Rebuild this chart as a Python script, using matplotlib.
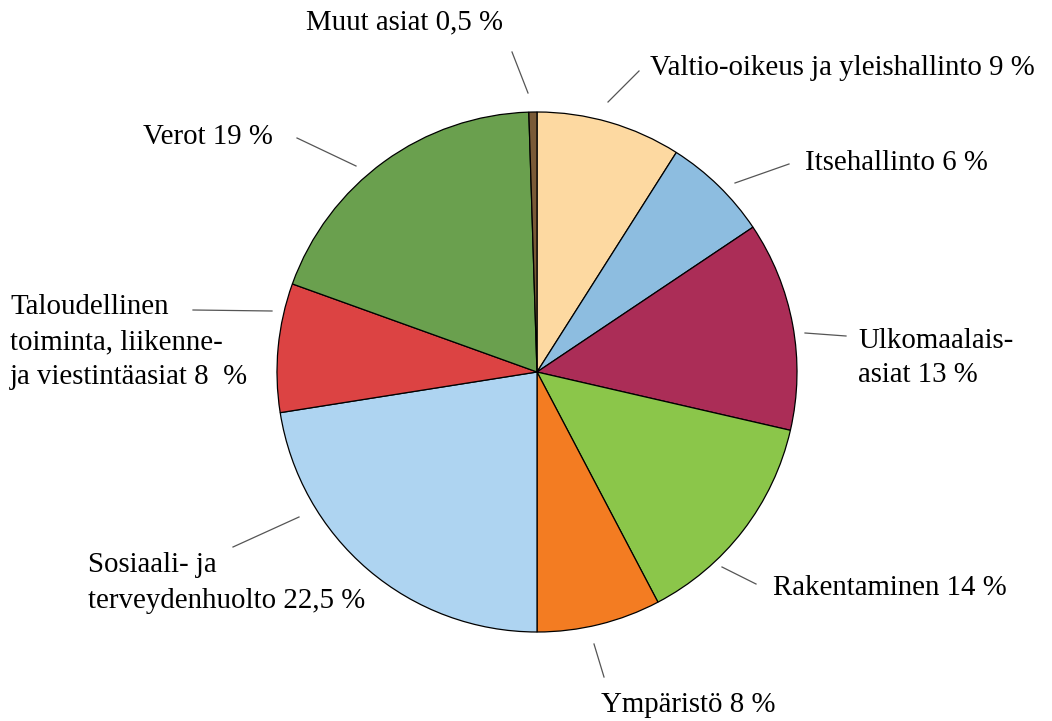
import matplotlib
matplotlib.use("Agg")
import matplotlib.pyplot as plt

W, H = 1052, 721

labels = ["Valtio-oikeus ja yleishallinto 9 %", "Itsehallinto 6 %", "Ulkomaalais-\nasiat 13 %",
          "Rakentaminen 14 %", "Ympäristö 8 %", "Sosiaali- ja\nterveydenhuolto 22,5 %",
          "Taloudellinen\ntoiminta, liikenne-\nja viestintäasiat 8  %", "Verot 19 %",
          "Muut asiat 0,5 %"]
# slice sizes as drawn (labels show rounded figures)
values = [9, 6.6, 13, 13.7, 7.7, 22.5, 8, 19, 0.5]
colors = ["#FDD9A1", "#8DBDE0", "#AB2D57", "#8BC64A", "#F37C22", "#AED4F1",
          "#DC4343", "#6AA04E", "#7A5A36"]

# label layout in pixels: text anchor (left, vertical centre), leader line start/end
text_pos = [(650, 68), (805, 163), (858, 358), (773, 588), (601, 705),
            (88, 583), (10, 342), (143, 137), (306, 22)]
lead = [((608, 102), (639, 71)), ((735, 183), (789, 164)), ((805, 333), (846, 336)),
        ((722, 567), (756, 584)), ((594, 644), (604, 677)), ((299, 517), (233, 547)),
        ((272, 311), (193, 310)), ((356, 166), (297, 138)), ((528, 93), (512, 52))]

plt.rcParams['font.family'] = ['Liberation Serif', 'DejaVu Serif']

fig = plt.figure(figsize=(W / 100, H / 100), dpi=100)
ax = fig.add_axes([0, 0, 1, 1])

ax.pie(values, colors=colors, startangle=90, counterclock=False,
       center=(537, H - 372), radius=260,
       wedgeprops=dict(edgecolor='black', linewidth=0.9), frame=True)
ax.set_xlim(0, W)
ax.set_ylim(0, H)
ax.axis('off')

for lab, (tx, ty), ((x1, y1), (x2, y2)) in zip(labels, text_pos, lead):
    ax.plot([x1, x2], [H - y1, H - y2], color='#555555', lw=0.9)
    ax.text(tx, H - ty, lab, ha='left', va='center', fontsize=20.8,
            linespacing=1.45, color='black')

fig.savefig("out.png", dpi=100)
